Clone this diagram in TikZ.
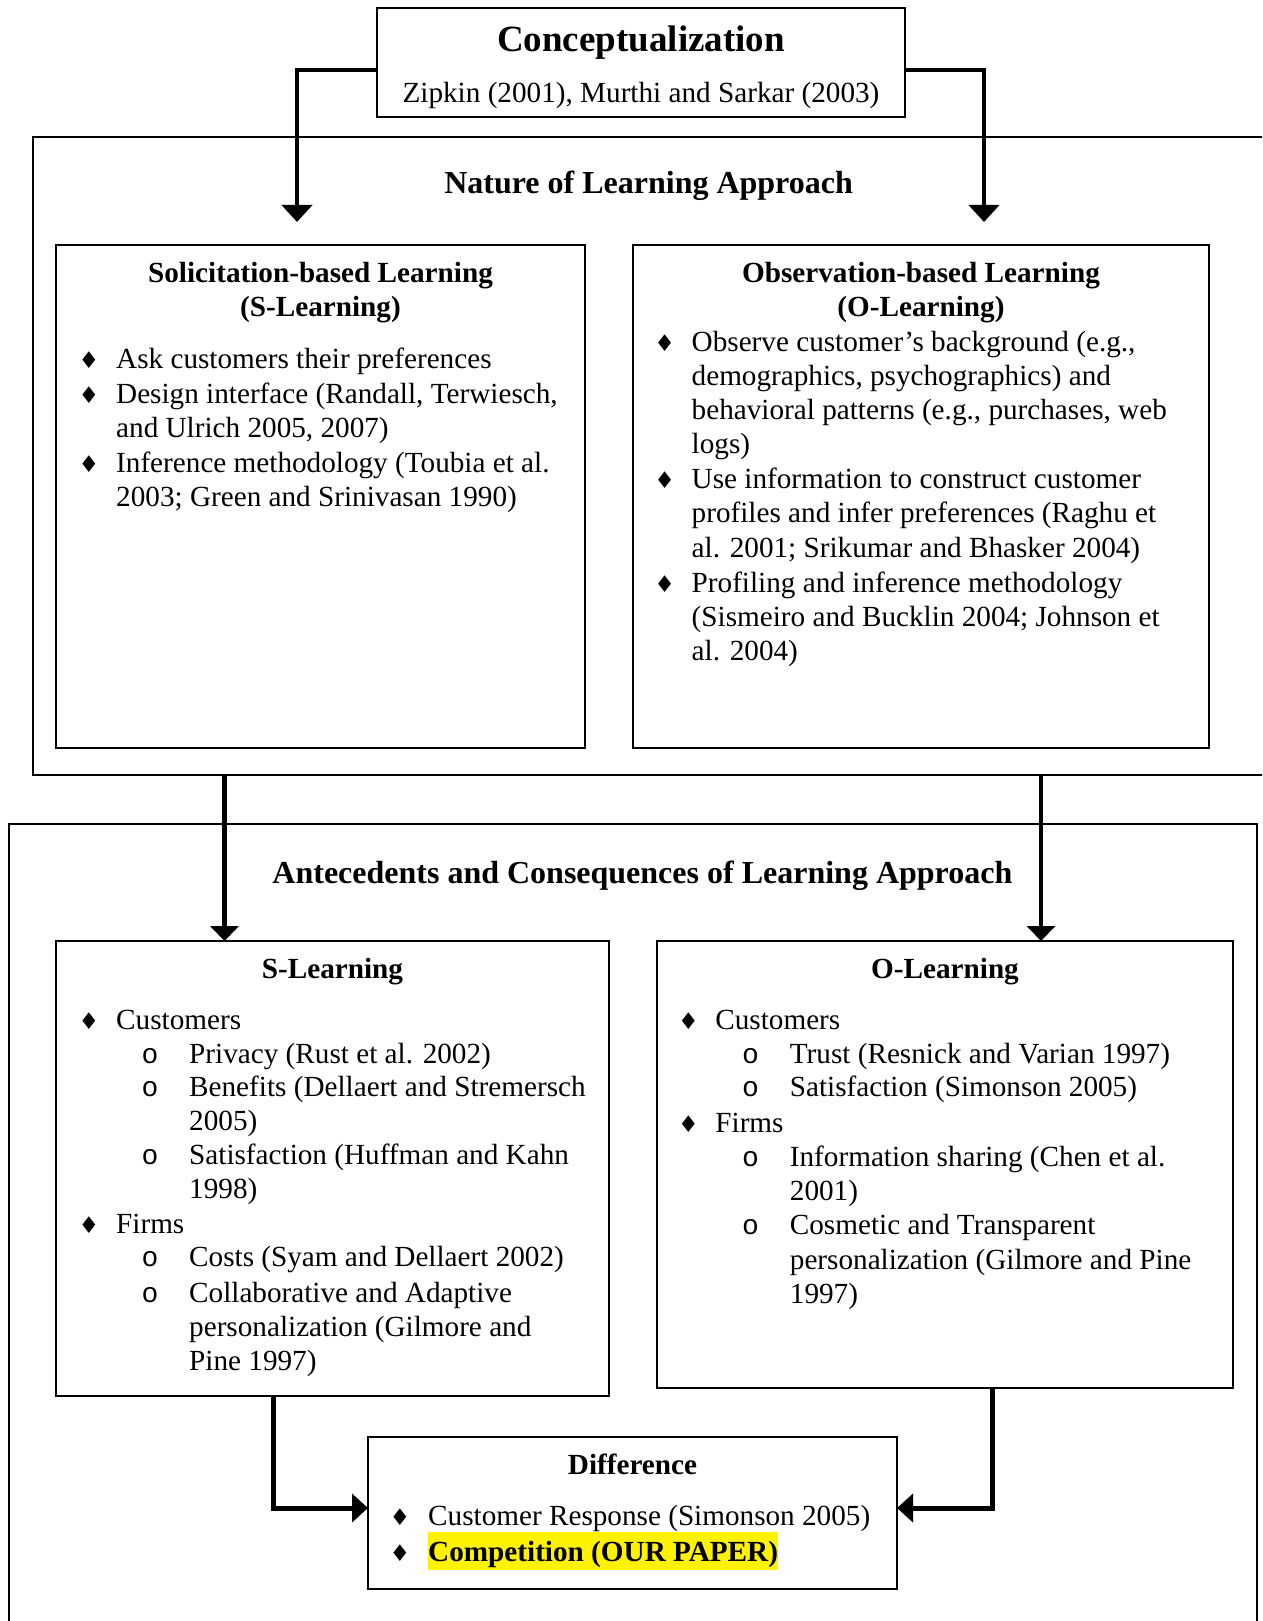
\documentclass[tikz,border=0pt]{standalone}
\usepackage{fontspec}
\setmainfont{Liberation Serif}
\setmonofont{Liberation Mono}
\newfontfamily\symfont{DejaVu Sans}
\usetikzlibrary{arrows.meta}
\newcommand{\bodyfont}{\fontsize{29.2pt}{34.2pt}\selectfont}
\newcommand{\Itm}[5]{%
  \node[diab] (#1b) at (#2,#4) {♦};
  \node[txt] (#1) at (#3,#4) {\parbox[t]{700pt}{\raggedright #5}};}
\newcommand{\Sbi}[5]{%
  \node[circb] (#1b) at (#2,#4) {o};
  \node[txt] (#1) at (#3,#4) {\parbox[t]{700pt}{\raggedright #5}};}
\begin{document}
\begin{tikzpicture}[x=1pt,y=-1pt,
  boxn/.style={draw, line width=2.2pt, inner sep=0, outer sep=0, anchor=north west},
  framen/.style={draw, line width=2pt, inner sep=0, outer sep=0, anchor=north west},
  txt/.style={anchor=base west, inner sep=0, font=\bodyfont},
  ctxt/.style={anchor=base, inner sep=0, font=\bodyfont},
  hd/.style={anchor=base, inner sep=0, font=\bfseries\fontsize{29.2pt}{33pt}\selectfont},
  sect/.style={anchor=base, inner sep=0, font=\bfseries\fontsize{32pt}{36pt}\selectfont},
  ttl/.style={anchor=base, inner sep=0, font=\bfseries\fontsize{37pt}{40pt}\selectfont},
  diab/.style={anchor=base, inner sep=0, font=\symfont\fontsize{23pt}{23pt}\selectfont},
  circb/.style={anchor=base, inner sep=0, font=\ttfamily\fontsize{28pt}{34pt}\selectfont},
  arrA/.style={line width=4.5pt, -{Triangle[width=30pt,length=17pt]}},
  arrB/.style={line width=4.5pt, -{Triangle[width=28pt,length=15pt]}},
  arrC/.style={line width=5pt, -{Triangle[width=28pt,length=16pt]}}
]
\useasboundingbox (0,0) rectangle (1262,1621);
\clip (0,0) rectangle (1262,1621);
\fill[white] (0,0) rectangle (1262,1621);

% frames
\node[framen, minimum width=1260pt, minimum height=638pt] (nature) at (33,137) {};
\node[framen, minimum width=1248pt, minimum height=850pt] (antec) at (9,824) {};

% boxes
\node[boxn, fill=white, minimum width=528pt, minimum height=109pt] (concept) at (377,8) {};
\node[boxn, minimum width=529pt, minimum height=503pt] (sl1) at (56,245) {};
\node[boxn, minimum width=576pt, minimum height=503pt] (ol1) at (633,245) {};
\node[boxn, minimum width=553pt, minimum height=455pt] (sl2) at (56,941) {};
\node[boxn, minimum width=576pt, minimum height=447pt] (ol2) at (657,941) {};
\node[boxn, minimum width=529pt, minimum height=152pt] (diff) at (368,1437) {};

% titles
\node[ttl] (ctitle) at (641,52) {Conceptualization};
\node[ctxt] (cref) at (641,103) {Zipkin (2001), Murthi and Sarkar (2003)};
\node[sect] (ntitle) at (648.6,194) {Nature of Learning Approach};
\node[sect] (atitle) at (642.4,883) {Antecedents and Consequences of Learning Approach};

% S-Learning (top)
\node[hd] (sl1h) at (320.5,283) {\parbox[t]{500pt}{\centering Solicitation-based Learning\\(S-Learning)}};
\Itm{sa}{88.9}{116}{368}{Ask customers their preferences}
\Itm{sb}{88.9}{116}{403}{Design interface (Randall, Terwiesch,\\and Ulrich 2005, 2007)}
\Itm{sc}{88.9}{116}{472}{Inference methodology (Toubia et al.\\2003; Green and Srinivasan 1990)}

% O-Learning (top)
\node[hd] (ol1h) at (921,283) {\parbox[t]{560pt}{\centering Observation-based Learning\\(O-Learning)}};
\Itm{oa}{664.6}{691.5}{351}{Observe customer’s background (e.g.,\\demographics, psychographics) and\\behavioral patterns (e.g., purchases, web\\logs)}
\Itm{ob}{664.6}{691.5}{488.6}{Use information to construct customer\\profiles and infer preferences (Raghu et\\al. 2001; Srikumar and Bhasker 2004)}
\Itm{oc}{664.6}{691.5}{592}{Profiling and inference methodology\\(Sismeiro and Bucklin 2004; Johnson et\\al. 2004)}

% S-Learning (bottom)
\node[hd] (sl2h) at (332.5,978.5) {S-Learning};
\Itm{sd}{88.9}{116}{1029.2}{Customers}
\Sbi{se}{149.9}{189}{1063.3}{Privacy (Rust et al. 2002)}
\Sbi{sf}{149.9}{189}{1096.4}{Benefits (Dellaert and Stremersch\\2005)}
\Sbi{sg}{149.9}{189}{1164.6}{Satisfaction (Huffman and Kahn\\1998)}
\Itm{sh}{88.9}{116}{1233.8}{Firms}
\Sbi{si}{149.9}{189}{1266.9}{Costs (Syam and Dellaert 2002)}
\Sbi{sj}{149.9}{189}{1302}{Collaborative and Adaptive\\personalization (Gilmore and\\Pine 1997)}

% O-Learning (bottom)
\node[hd] (ol2h) at (945,978.5) {O-Learning};
\Itm{od}{688.4}{715.2}{1029.2}{Customers}
\Sbi{oe}{750.4}{789.7}{1063.3}{Trust (Resnick and Varian 1997)}
\Sbi{of}{750.4}{789.7}{1096.4}{Satisfaction (Simonson 2005)}
\Itm{og}{688.4}{715.2}{1132.6}{Firms}
\Sbi{oh}{750.4}{789.7}{1166.7}{Information sharing (Chen et al.\\2001)}
\Sbi{oi}{750.4}{789.7}{1234.8}{Cosmetic and Transparent\\personalization (Gilmore and Pine\\1997)}

% Difference
\node[hd] (diffh) at (632.5,1474.6) {Difference};
\Itm{da}{400}{428}{1525.3}{Customer Response (Simonson 2005)}
\Itm{db}{400}{428}{1561.5}{{\setlength{\fboxsep}{0pt}\colorbox{yellow}{\rule[-8.5pt]{0pt}{38pt}\bfseries Competition (OUR PAPER)}}}

% connectors
\coordinate (tipL) at (297,222);
\coordinate (tipR) at (984,222);
\draw[arrA] ([yshift=-62pt]concept.north west) -| (tipL);
\draw[arrA] ([yshift=-62pt]concept.north east) -| (tipR);

\coordinate (m1) at ([xshift=168.5pt]sl2.north west);
\coordinate (m2) at ([xshift=384pt]ol2.north west);
\draw[arrB] (m1 |- nature.south) -- (m1);
\draw[arrB] (m2 |- nature.south) -- (m2);

\draw[arrC] ([xshift=217pt]sl2.south west) |- ([yshift=5pt]diff.west);
\draw[arrC] ([xshift=335pt]ol2.south west) |- ([yshift=5pt]diff.east);
\end{tikzpicture}
\end{document}
